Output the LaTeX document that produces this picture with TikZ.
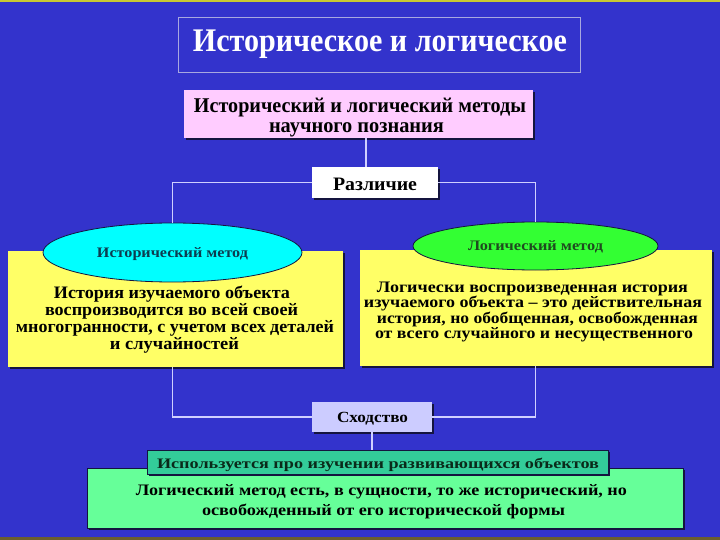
\documentclass[tikz,border=0pt]{standalone}
\usepackage{fontspec}
\setmainfont{Liberation Serif}
\usepackage{graphicx}
\usetikzlibrary{shapes.geometric,shadows}
\definecolor{bgblue}{HTML}{3333CC}
\definecolor{topline}{HTML}{C8C832}
\definecolor{botline}{HTML}{6B5E2E}
\definecolor{pinkc}{HTML}{FFCCFF}
\definecolor{yellowc}{HTML}{FFFF66}
\definecolor{cyanc}{HTML}{00FFFF}
\definecolor{greenc}{HTML}{33FF33}
\definecolor{lavc}{HTML}{CCCCFF}
\definecolor{tealc}{HTML}{33CC99}
\definecolor{lgreenc}{HTML}{66FF99}
\definecolor{shadowc}{HTML}{14143F}
\definecolor{connc}{HTML}{D0D0FF}
\definecolor{titlebord}{HTML}{A8A8E0}
\definecolor{elltxtA}{HTML}{0D3B4F}
\definecolor{elltxtB}{HTML}{1F4A1F}
\definecolor{tealtxt}{HTML}{0A2A1A}
\newcommand\fitw[2]{\resizebox{#1pt}{\height}{#2}}
\newcommand\fsz[1]{\fontsize{#1}{#1}\selectfont\bfseries}
\begin{document}
\begin{tikzpicture}[x=1pt,y=-1pt,
  boxc/.style={rectangle,inner sep=0pt,outer sep=0pt,
    general shadow={shadow xshift=1.8pt,shadow yshift=-1.8pt,fill=shadowc}},
  ellc/.style={ellipse,inner sep=0pt,outer sep=0pt,draw=shadowc,line width=0.8pt},
  conn/.style={draw=connc,line width=1.2pt},
  txt/.style={inner sep=0pt,outer sep=0pt,anchor=base,text=black}]
\useasboundingbox (0,0) rectangle (720,540);
\fill[bgblue] (0,0) rectangle (720,540);
\fill[topline] (0,0) rectangle (720,1.6);
\fill[botline] (0,536.5) rectangle (720,540);

% boxes
\node[draw=titlebord,line width=0.8pt,rectangle,inner sep=0pt,minimum width=402pt,minimum height=55pt] (title) at (379,44.5) {};
\node[boxc,fill=pinkc,minimum width=349pt,minimum height=48pt] (pink) at (358.5,114) {};
\node[boxc,fill=white,minimum width=126pt,minimum height=31pt] (razl) at (375,182.5) {};
\node[boxc,fill=yellowc,minimum width=335pt,minimum height=116pt] (lbox) at (175.5,309) {};
\node[boxc,fill=yellowc,minimum width=352pt,minimum height=116pt] (rbox) at (536,308) {};
\node[ellc,fill=cyanc,minimum width=259pt,minimum height=59pt] (lell) at (172.5,252.5) {};
\node[ellc,fill=greenc,minimum width=245pt,minimum height=48pt] (rell) at (535.5,246) {};
\node[boxc,fill=lavc,minimum width=120pt,minimum height=30pt] (shod) at (372,417) {};
\node[boxc,fill=lgreenc,draw=shadowc,line width=0.8pt,minimum width=596pt,minimum height=60pt] (green) at (385,498) {};
\node[boxc,fill=tealc,draw=shadowc,line width=0.8pt,minimum width=461pt,minimum height=24pt] (teal) at (377.5,462) {};

% connectors
\draw[conn] ([xshift=7.5pt]pink.south) -- ([xshift=-9pt]razl.north);
\draw[conn] (razl.west) -| (lell.north);
\draw[conn] (razl.east) -| (rell.north);
\draw[conn] (lbox.south -| lell.north) |- (shod.west);
\draw[conn] (rbox.south -| rell.north) |- (shod.east);
\draw[conn] (shod.south) -- (shod.south |- teal.north);

% texts
\node[txt,text=white] (ttitle) at (380,52) {\fsz{33}\fitw{374}{Историческое и логическое}};
\node[txt] (tp1) at (360,113) {\fsz{21}\fitw{332}{Исторический и логический методы}};
\node[txt] (tp2) at (356.5,132.5) {\fsz{21}\fitw{175}{научного познания}};
\node[txt] (trazl) at (375,191) {\fsz{19}\fitw{84}{Различие}};
\node[txt,text=elltxtA] (tlell) at (172.5,257) {\fsz{14.5}\fitw{151}{Исторический метод}};
\node[txt,text=elltxtB] (trell) at (535.5,250) {\fsz{14.5}\fitw{135}{Логический метод}};
\node[txt] (tl1) at (172,298) {\fsz{17.5}\fitw{236}{История изучаемого объекта}};
\node[txt] (tl2) at (171.5,315) {\fsz{17.5}\fitw{253}{воспроизводится во всей своей}};
\node[txt] (tl3) at (175,332) {\fsz{17.5}\fitw{318}{многогранности, с учетом всех деталей}};
\node[txt] (tl4) at (174.5,349) {\fsz{17.5}\fitw{129}{и случайностей}};
\node[txt] (tr1) at (532.5,292) {\fsz{16}\fitw{311}{Логически воспроизведенная история}};
\node[txt] (tr2) at (533,307.5) {\fsz{16}\fitw{338}{изучаемого объекта – это действительная}};
\node[txt] (tr3) at (537.5,323) {\fsz{16}\fitw{321}{история, но обобщенная, освобожденная}};
\node[txt] (tr4) at (534,338.5) {\fsz{16}\fitw{318}{от всего случайного и несущественного}};
\node[txt] (tshod) at (372.5,422) {\fsz{15.5}\fitw{71}{Сходство}};
\node[txt,text=tealtxt] (tteal) at (378,468) {\fsz{14.5}\fitw{442}{Используется про изучении развивающихся объектов}};
\node[txt] (tg1) at (381.5,495) {\fsz{16}\fitw{491}{Логический метод есть, в сущности, то же исторический, но}};
\node[txt] (tg2) at (383.5,515) {\fsz{16}\fitw{363}{освобожденный от его исторической формы}};
\end{tikzpicture}
\end{document}
